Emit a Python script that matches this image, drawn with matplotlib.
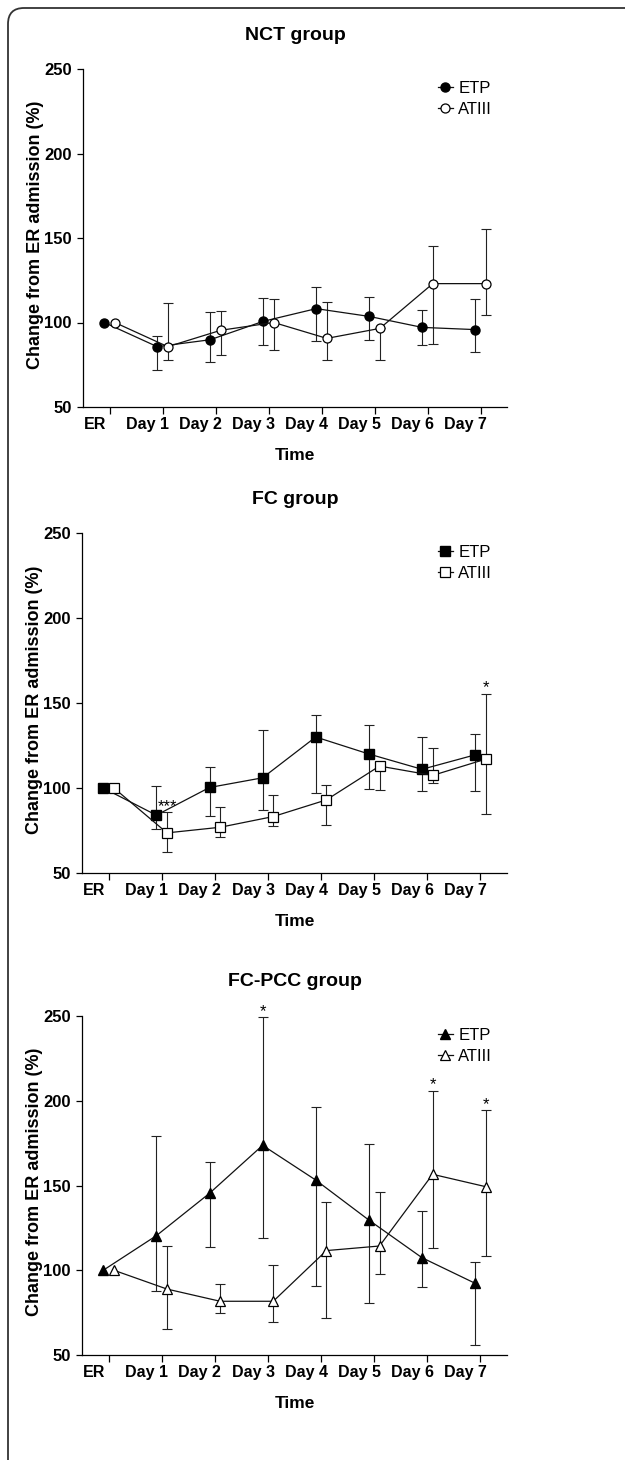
import matplotlib
matplotlib.use('Agg')
import matplotlib.pyplot as plt
from matplotlib.patches import FancyBboxPatch
import numpy as np

plt.rcParams['font.family'] = ['Liberation Sans', 'DejaVu Sans']

days = ['ER', 'Day 1', 'Day 2', 'Day 3', 'Day 4', 'Day 5', 'Day 6', 'Day 7']

# NCT group
nct_etp = [100, 85.7, 89.8, 100.7, 108.2, 103.6, 97.1, 95.8]
nct_etp_lo = [100, 71.9, 76.4, 86.9, 88.9, 89.8, 86.9, 82.5]
nct_etp_hi = [100, 91.8, 106.2, 114.5, 121.0, 114.9, 107.2, 113.9]
nct_at = [100, 85.7, 95.4, 100.0, 90.6, 96.5, 123.0, 123.0]
nct_at_lo = [100, 78.0, 81.0, 83.9, 78.0, 78.0, 87.3, 104.4]
nct_at_hi = [100, 111.7, 107.0, 113.7, 112.3, 96.5, 145.0, 155.5]

# FC group
fc_etp = [100, 84.0, 100.3, 106.0, 130.0, 120.0, 111.0, 119.5]
fc_etp_lo = [100, 76.1, 83.4, 87.1, 96.8, 99.5, 98.1, 98.3]
fc_etp_hi = [100, 101.3, 112.5, 134.3, 143.1, 137.0, 130.2, 131.5]
fc_at = [100, 73.6, 76.9, 83.2, 93.0, 112.9, 107.4, 117.0]
fc_at_lo = [100, 62.6, 71.0, 77.5, 78.5, 99.1, 103.2, 84.8]
fc_at_hi = [100, 85.6, 88.9, 95.6, 101.7, 112.9, 123.7, 155.5]

# FC-PCC group
pcc_etp = [100, 120.4, 145.4, 173.7, 153.2, 129.6, 107.4, 92.3]
pcc_etp_lo = [100, 88.0, 113.5, 118.8, 90.9, 80.9, 89.9, 55.7]
pcc_etp_hi = [100, 179.0, 163.9, 249.2, 196.5, 174.5, 135.0, 104.9]
pcc_at = [100, 88.9, 81.7, 81.7, 111.6, 114.3, 156.6, 149.3]
pcc_at_lo = [100, 65.5, 74.6, 69.7, 72.0, 98.0, 112.9, 108.6]
pcc_at_hi = [100, 114.1, 92.1, 102.9, 140.3, 146.4, 206.0, 194.3]

# significance marks: (day index, series, text)
fc_stars = [(1, 'at', '***'), (7, 'at', '*')]
pcc_stars = [(3, 'etp', '*'), (6, 'at', '*'), (7, 'at', '*')]

W, H = 625, 1460
fig = plt.figure(figsize=(W / 100, H / 100), dpi=100)

# rounded frame around the whole figure
frame = FancyBboxPatch((0.08, -0.3), 6.5, 14.82,
                       boxstyle='round,pad=0,rounding_size=0.16',
                       transform=fig.dpi_scale_trans, fill=False,
                       edgecolor='#333333', linewidth=1.3)
fig.patches.append(frame)


def panel(top, bottom, left, title, etp, etp_lo, etp_hi, at, at_lo, at_hi,
          marker, stars):
    ax = fig.add_axes([left / W, 1 - bottom / H, (507 - left) / W,
                       (bottom - top) / H])
    x = np.arange(len(days))
    xe = x - 0.1
    xa = x + 0.1

    etp = np.array(etp); at = np.array(at)
    e_err = [etp[1:] - np.array(etp_lo[1:]), np.array(etp_hi[1:]) - etp[1:]]
    a_err = [at[1:] - np.array(at_lo[1:]), np.array(at_hi[1:]) - at[1:]]

    ax.errorbar(xe[1:], etp[1:], yerr=e_err, fmt='none', ecolor='#222222',
                elinewidth=0.8, capsize=3.5, capthick=0.8, zorder=2)
    ax.errorbar(xa[1:], at[1:], yerr=a_err, fmt='none', ecolor='#222222',
                elinewidth=0.8, capsize=3.5, capthick=0.8, zorder=2)
    ax.plot(xe, etp, color='#111111', lw=0.9, marker=marker, ms=6.5,
            mfc='black', mec='black', zorder=3, label='ETP')
    ax.plot(xa, at, color='#111111', lw=0.9, marker=marker, ms=6.5,
            mfc='white', mec='black', mew=0.9, zorder=4, label='ATIII')

    for d, s, txt in stars:
        if s == 'at':
            xs, ys = xa[d], at_hi[d]
        else:
            xs, ys = xe[d], etp_hi[d]
        ax.annotate(txt, (xs, ys), xytext=(0, 1), textcoords='offset points',
                    ha='center', va='baseline', fontsize=12, annotation_clip=False)

    ax.set_xlim(-0.5, 7.5)
    ax.set_ylim(50, 250)
    ax.set_yticks([50, 100, 150, 200, 250])
    ax.set_xticks(x)
    ax.set_xticklabels([])
    ax.set_xticks(x - 0.28, minor=True)
    ax.set_xticklabels(days, minor=True, fontweight='bold', fontsize=11.5)
    ax.tick_params(axis='x', which='major', length=5, width=0.9, direction='out')
    ax.tick_params(axis='x', which='minor', length=0, pad=7)
    ax.tick_params(axis='y', length=4, width=0.9, pad=4, labelsize=12)
    for lab in ax.get_yticklabels():
        lab.set_fontweight('bold')
    ax.spines['top'].set_visible(False)
    ax.spines['right'].set_visible(False)
    ax.spines['left'].set_linewidth(0.9)
    ax.spines['bottom'].set_linewidth(0.9)

    ax.set_ylabel('Change from ER admission (%)', fontsize=13, fontweight='bold')
    ax.yaxis.set_label_coords(-0.092, 0.51)

    ax.legend(loc='upper right', bbox_to_anchor=(0.985, 0.99),
              frameon=False, fontsize=12, handlelength=0.9,
              handletextpad=0.35, borderpad=0, labelspacing=0.35)

    fig.text(295 / W, 1 - (top - 34) / H, title, ha='center', va='center',
             fontsize=14, fontweight='bold')
    fig.text(295 / W, 1 - (bottom + 48) / H, 'Time', ha='center', va='center',
             fontsize=12.5, fontweight='bold')
    return ax


panel(69, 407, 83, 'NCT group', nct_etp, nct_etp_lo, nct_etp_hi,
      nct_at, nct_at_lo, nct_at_hi, 'o', [])
panel(533, 873, 82, 'FC group', fc_etp, fc_etp_lo, fc_etp_hi,
      fc_at, fc_at_lo, fc_at_hi, 's', fc_stars)
panel(1016, 1355, 82, 'FC-PCC group', pcc_etp, pcc_etp_lo, pcc_etp_hi,
      pcc_at, pcc_at_lo, pcc_at_hi, '^', pcc_stars)

fig.savefig('out.png', dpi=100)
